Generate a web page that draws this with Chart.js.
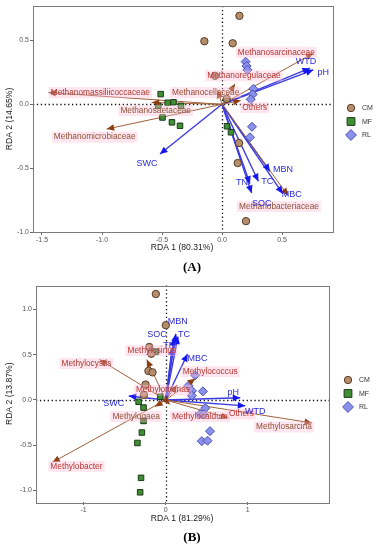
<!DOCTYPE html>
<html><head><meta charset="utf-8">
<script src="https://cdn.jsdelivr.net/npm/chart.js@4.4.1/dist/chart.umd.min.js"></script>
<style>
html,body{margin:0;padding:0;background:#fff;width:376px;height:550px;overflow:hidden;}
#cA{position:absolute;left:0;top:0;}
#cB{position:absolute;left:0;top:280px;}
</style></head><body>
<canvas id="cA" width="376" height="280"></canvas>
<canvas id="cB" width="376" height="270"></canvas>
<script>
// ---------------- Panel A data ----------------
const groupNames = ['CM', 'MF', 'RL'];
const cmA_x = [0.145, -0.147, 0.089, -0.058, 0.039, 0.142, 0.131, 0.2];
const cmA_y = [0.693, 0.494, 0.478, 0.223, 0.043, -0.303, -0.46, -0.915];
const mfA_x = [-0.511, -0.453, -0.404, -0.531, -0.342, -0.496, -0.417, -0.35, 0.042, 0.075];
const mfA_y = [0.08, 0.012, 0.016, -0.012, -0.012, -0.103, -0.141, -0.168, -0.172, -0.219];
const rlA_x = [0.197, 0.205, 0.212, 0.261, 0.256, 0.239, 0.25, 0.233];
const rlA_y = [0.334, 0.3, 0.27, 0.121, 0.078, 0.039, -0.176, -0.258];

const speciesA = ['Methanomassiliicoccaceae', 'Methanosaetaceae', 'Methanomicrobiaceae', 'Methanocellaceae', 'Methanoregulaceae', 'Methanosarcinaceae', 'Others', 'Methanobacteriaceae'];
const speciesA_x = [-1.447, -0.586, -0.961, -0.036, 0.108, 0.761, 0.156, 0.55];
const speciesA_y = [0.092, 0.014, -0.194, 0.108, 0.16, 0.4, 0.03, -0.715];

const envA = ['WTD', 'pH', 'SWC', 'MBN', 'TC', 'TN', 'SOC', 'MBC'];
const envA_x = [0.733, 0.761, -0.517, 0.4, 0.303, 0.233, 0.247, 0.506];
const envA_y = [0.283, 0.27, -0.389, -0.525, -0.603, -0.621, -0.694, -0.7];

const xTicksA = [-1.5, -1.0, -0.5, 0.0, 0.5];
const yTicksA = [-1.0, -0.5, 0.0, 0.5];

// ---------------- Panel B data ----------------
const cmB_x = [-0.12, 0.002, -0.2, -0.175, -0.21, -0.16, -0.245, -0.265];
const cmB_y = [1.17, 0.826, 0.585, 0.51, 0.32, 0.305, 0.17, 0.055];
const mfB_x = [-0.12, -0.067, -0.33, -0.27, -0.27, -0.29, -0.344, -0.3, -0.311];
const mfB_y = [0.532, 0.036, -0.02, -0.084, -0.232, -0.36, -0.475, -0.86, -1.02];
const rlB_x = [0.36, 0.278, 0.32, 0.32, 0.454, 0.482, 0.42, 0.46, 0.54, 0.44, 0.51];
const rlB_y = [0.272, 0.158, 0.1, 0.047, 0.095, -0.09, -0.155, -0.16, -0.345, -0.455, -0.45];

const speciesB = ['Methylocystis', 'Methylobacter', 'Methylosarcina', 'Methylococcus', 'Methylosinus', 'Methylomonas', 'Methylogaea', 'Methylocaldum', 'Others'];
const speciesB_x = [-0.807, -1.38, 1.783, 0.36, -0.23, 0.137, -0.128, 0.05, 0.766];
const speciesB_y = [0.446, -0.689, -0.254, 0.235, 0.446, 0.163, -0.073, -0.05, -0.2];

const envB = ['MBN', 'TC', 'SOC', 'TN', 'MBC', 'pH', 'WTD', 'SWC'];
const envB_x = [0.124, 0.15, 0.1, 0.08, 0.266, 0.909, 0.97, -0.45];
const envB_y = [0.73, 0.70, 0.68, 0.58, 0.507, 0.025, -0.065, 0.043];

const xTicksB = [-1, 0, 1];
const yTicksB = [-1.0, -0.5, 0.0, 0.5, 1.0];

// ---------------- layout / style (not data) ----------------
const FONT = "'Liberation Sans', Arial, sans-serif";
const labelOffA_sp = [[52, 0], [4, 8], [-12, 8], [-12, 2], [9, -8], [-37, -1], [14, 7], [-9, 11]];
const labelColA_sp = ['#a8382e', '#8b5236', '#8b5236', '#9a4a30', '#b8372f', '#b8372f', '#b8372f', '#8b5236'];
const labelOffA_env = [[-4, -7], [10, 3], [-13, 10], [13, -2], [9, 0], [-8, -1], [10, 11], [9, 1]];
const labelOffB_sp = [[-13, 4], [24, 4], [-28, 4], [15, -7], [5, -9], [-14, 5], [-19, 10], [30, 12], [13, -4]];
const labelColB_sp = ['#a8382e', '#b8372f', '#8b5236', '#b8372f', '#b8372f', '#b8372f', '#8b5236', '#b8372f', '#b8372f'];
const labelOffB_env = [[2, -12], [6, -2], [-17, -4], [-3, -2], [10, 4], [-7, -5], [10, 6], [-15, 7]];

const groupStyle = [
  {pointStyle: 'circle', bg: '#b38d6c', border: '#5b3b25', r: 3.7},
  {pointStyle: 'rect', bg: '#3f8f35', border: '#1d3a1a', r: 3.9},
  {pointStyle: 'rectRot', bg: '#8a91ec', border: '#4a4fb0', r: 4.5}
];

function zip(xs, ys) { return xs.map((x, i) => ({x: x, y: ys[i]})); }

function buildDatasets(groups, spx, spy, envx, envy) {
  const ds = [];
  spx.forEach((x, i) => ds.push({type: 'line', data: [{x: 0, y: 0}, {x: x, y: spy[i]}], borderColor: '#a0603c', borderWidth: 1, pointRadius: 0, showLine: true, order: 2}));
  envx.forEach((x, i) => ds.push({type: 'line', data: [{x: 0, y: 0}, {x: x, y: envy[i]}], borderColor: '#3a3ae0', borderWidth: 1.4, pointRadius: 0, showLine: true, order: 2}));
  groups.forEach((g, gi) => {
    const st = groupStyle[gi];
    ds.push({type: 'scatter', label: groupNames[gi], data: zip(g[0], g[1]), pointStyle: st.pointStyle,
      backgroundColor: st.bg, borderColor: st.border, borderWidth: 1, pointRadius: st.r, pointHoverRadius: st.r, order: 1});
  });
  return ds;
}

function head(ctx, x0, y0, x1, y1, color, len, wid) {
  const a = Math.atan2(y1 - y0, x1 - x0);
  ctx.save();
  ctx.fillStyle = color;
  ctx.beginPath();
  ctx.moveTo(x1, y1);
  ctx.lineTo(x1 - len * Math.cos(a) + wid * Math.sin(a), y1 - len * Math.sin(a) - wid * Math.cos(a));
  ctx.lineTo(x1 - len * Math.cos(a) - wid * Math.sin(a), y1 - len * Math.sin(a) + wid * Math.cos(a));
  ctx.closePath();
  ctx.fill();
  ctx.restore();
}

function drawMarker(ctx, st, cx, cy) {
  ctx.beginPath();
  if (st.pointStyle === 'circle') ctx.arc(cx, cy, st.r, 0, Math.PI * 2);
  else if (st.pointStyle === 'rect') ctx.rect(cx - st.r, cy - st.r, st.r * 2, st.r * 2);
  else { ctx.moveTo(cx, cy - st.r * 1.2); ctx.lineTo(cx + st.r * 1.2, cy); ctx.lineTo(cx, cy + st.r * 1.2); ctx.lineTo(cx - st.r * 1.2, cy); ctx.closePath(); }
  ctx.fill(); ctx.stroke();
}

function makePlugin(p) {
  return {
    id: 'rda' + p.letter,
    beforeDatasetsDraw(chart) {
      const {ctx, chartArea: ca, scales: {x, y}} = chart;
      ctx.save();
      ctx.strokeStyle = '#111';
      ctx.lineWidth = 1.3;
      ctx.setLineDash([1.3, 2.6]);
      const x0 = Math.round(x.getPixelForValue(0)) + 0.5, y0 = Math.round(y.getPixelForValue(0)) + 0.5;
      ctx.beginPath(); ctx.moveTo(x0, ca.top); ctx.lineTo(x0, ca.bottom); ctx.stroke();
      ctx.beginPath(); ctx.moveTo(ca.left, y0); ctx.lineTo(ca.right, y0); ctx.stroke();
      ctx.restore();
    },
    afterDatasetsDraw(chart) {
      const {ctx, chartArea: ca, scales: {x, y}} = chart;
      const ox = x.getPixelForValue(0), oy = y.getPixelForValue(0);
      p.spx.forEach((v, i) => head(ctx, ox, oy, x.getPixelForValue(v), y.getPixelForValue(p.spy[i]), '#8e3f12', 7.5, 3.4));
      p.envx.forEach((v, i) => head(ctx, ox, oy, x.getPixelForValue(v), y.getPixelForValue(p.envy[i]), '#1616f2', 7.5, 3.4));
      ctx.save();
      ctx.textAlign = 'center'; ctx.textBaseline = 'middle';
      ctx.font = '8.3px ' + FONT;
      p.spNames.forEach((n, i) => {
        const px = x.getPixelForValue(p.spx[i]) + p.spOff[i][0];
        const py = y.getPixelForValue(p.spy[i]) + p.spOff[i][1];
        const w = ctx.measureText(n).width;
        ctx.fillStyle = 'rgba(255,190,215,0.4)';
        ctx.fillRect(px - w / 2 - 2, py - 5.5, w + 4, 11);
        ctx.fillStyle = p.spCol[i];
        ctx.fillText(n, px, py);
      });
      ctx.font = '9px ' + FONT;
      ctx.fillStyle = '#2b2bd8';
      p.envNames.forEach((n, i) => {
        const px = x.getPixelForValue(p.envx[i]) + p.envOff[i][0];
        const py = y.getPixelForValue(p.envy[i]) + p.envOff[i][1];
        ctx.fillText(n, px, py);
      });
      ctx.restore();
      ctx.save();
      ctx.strokeStyle = '#7a7a7a'; ctx.lineWidth = 1;
      ctx.strokeRect(Math.round(ca.left) + 0.5, Math.round(ca.top) + 0.5, Math.round(ca.right - ca.left), Math.round(ca.bottom - ca.top));
      ctx.restore();
    },
    afterDraw(chart) {
      const {ctx, chartArea: ca} = chart;
      ctx.save();
      ctx.fillStyle = '#222';
      ctx.font = '8.6px ' + FONT;
      ctx.textAlign = 'center'; ctx.textBaseline = 'middle';
      ctx.fillText(p.xTitle, p.xTitleX, p.xTitleY);
      ctx.save();
      ctx.translate(10, (ca.top + ca.bottom) / 2);
      ctx.rotate(-Math.PI / 2);
      ctx.fillText(p.yTitle, 0, 0);
      ctx.restore();
      ctx.font = 'bold 13px "Liberation Serif", "Times New Roman", serif';
      ctx.fillStyle = '#000';
      ctx.fillText('(' + p.letter + ')', 192, p.letterY);
      ctx.font = '7px ' + FONT;
      ctx.textAlign = 'left';
      groupNames.forEach((g, i) => {
        const st = groupStyle[i];
        const ly = p.legY + i * p.legGap;
        ctx.fillStyle = st.bg; ctx.strokeStyle = st.border; ctx.lineWidth = 1;
        drawMarker(ctx, st, p.legX, ly);
        ctx.fillStyle = '#333';
        ctx.fillText(g, p.legX + 11, ly + 0.5);
      });
      ctx.restore();
    }
  };
}

function fmt1(v) { return (Math.abs(v) < 1e-9 ? 0 : v).toFixed(1); }
function fmt0(v) { return String(Math.round(v)); }

function makeChart(id, p) {
  const tickFont = {size: 7, family: FONT};
  return new Chart(document.getElementById(id), {
    data: {datasets: buildDatasets(p.groups, p.spx, p.spy, p.envx, p.envy)},
    options: {
      responsive: false, animation: false, devicePixelRatio: 1,
      layout: {padding: {left: 0, top: p.padTop, right: p.padRight, bottom: 0}},
      plugins: {legend: {display: false}, tooltip: {enabled: false}},
      events: [],
      scales: {
        x: {type: 'linear', position: 'bottom', min: p.xMin, max: p.xMax,
          afterBuildTicks: s => { s.ticks = p.xTicks.map(v => ({value: v})); },
          afterFit: s => { s.height = p.xAxisH; },
          grid: {drawOnChartArea: false, drawTicks: true, tickLength: 3, color: '#666', lineWidth: 1},
          border: {display: false},
          ticks: {font: tickFont, color: '#555', padding: 1, maxRotation: 0, autoSkip: false, callback: p.xFmt}},
        y: {type: 'linear', min: p.yMin, max: p.yMax,
          afterBuildTicks: s => { s.ticks = p.yTicks.map(v => ({value: v})); },
          afterFit: s => { s.width = p.yAxisW; },
          grid: {drawOnChartArea: false, drawTicks: true, tickLength: 3, color: '#666', lineWidth: 1},
          border: {display: false},
          ticks: {font: tickFont, color: '#555', padding: 1, autoSkip: false, callback: fmt1}}
      }
    },
    plugins: [makePlugin(p)]
  });
}

makeChart('cA', {
  letter: 'A', groups: [[cmA_x, cmA_y], [mfA_x, mfA_y], [rlA_x, rlA_y]],
  spNames: speciesA, spx: speciesA_x, spy: speciesA_y, spOff: labelOffA_sp, spCol: labelColA_sp,
  envNames: envA, envx: envA_x, envy: envA_y, envOff: labelOffA_env,
  xMin: -1.575, xMax: 0.925, yMin: -1.0, yMax: 0.77, xTicks: xTicksA, yTicks: yTicksA, xFmt: fmt1,
  padTop: 6, padRight: 43, xAxisH: 48, yAxisW: 33,
  xTitle: 'RDA 1 (80.31%)', yTitle: 'RDA 2 (14.65%)', xTitleX: 182, xTitleY: 248, letterY: 268,
  legX: 351, legY: 108, legGap: 13.5
});

makeChart('cB', {
  letter: 'B', groups: [[cmB_x, cmB_y], [mfB_x, mfB_y], [rlB_x, rlB_y]],
  spNames: speciesB, spx: speciesB_x, spy: speciesB_y, spOff: labelOffB_sp, spCol: labelColB_sp,
  envNames: envB, envx: envB_x, envy: envB_y, envOff: labelOffB_env,
  xMin: -1.58, xMax: 1.99, yMin: -1.127, yMax: 1.264, xTicks: xTicksB, yTicks: yTicksB, xFmt: fmt0,
  padTop: 2, padRight: 47, xAxisH: 48, yAxisW: 36,
  xTitle: 'RDA 1 (81.29%)', yTitle: 'RDA 2 (13.87%)', xTitleX: 182, xTitleY: 239, letterY: 258,
  legX: 348, legY: 100, legGap: 13.5
});
</script>
</body></html>
